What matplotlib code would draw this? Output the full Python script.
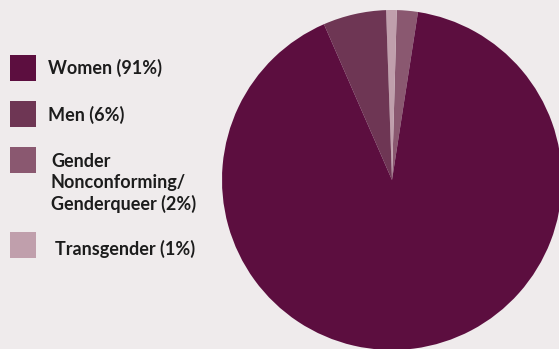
import matplotlib
matplotlib.use("Agg")
import matplotlib.pyplot as plt
from matplotlib.patches import Rectangle

# survey respondents by gender identity
labels = ["Women (91%)", "Men (6%)",
          "Gender\nNonconforming/\nGenderqueer (2%)", "Transgender (1%)"]
shares = [91, 6, 2, 1]
colors = ["#5c0e3f", "#6e3654", "#8a5870", "#c09fac"]

# wedges go counter-clockwise: GNC, Transgender, Men, then Women
pie_order = [2, 3, 1, 0]

W, H = 559, 349
bg = "#efebec"

fig = plt.figure(figsize=(W / 100, H / 100), dpi=100)
fig.patch.set_facecolor(bg)


def fx(px):
    return px / W


def fy(py):
    return 1 - py / H


# pie: centre (392, 180), radius 170 px
r = 170
ax = fig.add_axes([fx(392 - r), fy(180 + r), 2 * r / W, 2 * r / H])
ax.pie([shares[i] for i in pie_order],
       colors=[colors[i] for i in pie_order],
       startangle=90 - 360 * shares[2] / 100 - 1.6,
       counterclock=True, radius=1,
       wedgeprops=dict(linewidth=0))
ax.set_xlim(-1, 1)
ax.set_ylim(-1, 1)
ax.axis("off")

# legend drawn by hand
box_tops = [55, 101, 147, 232]
text_pos = [(48, 68), (48, 115), (51, 183), (55, 249)]
for i in range(len(labels)):
    fig.patches.append(Rectangle((fx(10), fy(box_tops[i] + 26)), 26 / W, 26 / H,
                                 transform=fig.transFigure,
                                 facecolor=colors[i], edgecolor="none"))
    tx, ty = text_pos[i]
    fig.text(fx(tx), fy(ty), labels[i], ha="left", va="center",
             fontsize=13, fontweight="bold", family="Lato",
             color="#1c1c1c", linespacing=1.28)

fig.savefig("out.png", dpi=100, facecolor=bg)
